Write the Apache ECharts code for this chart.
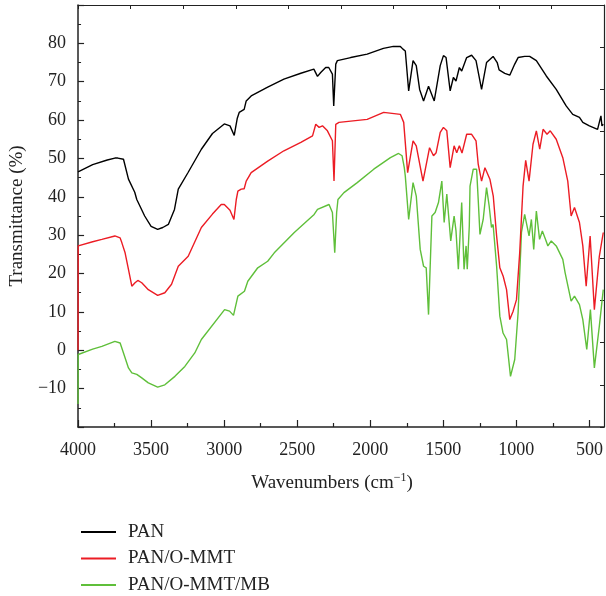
<!DOCTYPE html>
<html>
<head>
<meta charset="utf-8">
<script src="https://cdn.jsdelivr.net/npm/echarts@6/dist/echarts.min.js"></script>
<style>
  html, body { margin: 0; padding: 0; background: #fff; }
  #main { width: 606px; height: 596px; }
</style>
</head>
<body>
<div id="main"></div>
<script>
// wavenumber (cm-1), transmittance (%)
var pan = [
  [4000,46.5],[3900,48.4],[3800,49.6],[3748,50.1],[3728,50.1],[3689,49.8],[3655,44.6],[3612,41.2],
  [3598,39.3],[3544,35],[3500,32.3],[3455,31.5],[3420,32],[3382,32.8],[3340,36.7],[3314,42],
  [3246,46.4],[3156,52.4],[3080,56.5],[2999,59],[2960,58.5],[2931,56],[2910,60.5],[2897,62],
  [2863,62.8],[2849,65],[2815,66.3],[2702,68.6],[2591,70.7],[2475,72.2],[2386,73.3],[2361,71.4],
  [2339,72.4],[2305,73.7],[2284,73.7],[2259,72],[2250,63.7],[2236,74.6],[2225,75.5],[2134,76.3],
  [2021,77.2],[1910,78.7],[1842,79.2],[1794,79.2],[1776,78.5],[1760,78],[1737,67.6],[1707,75.5],
  [1685,74.2],[1662,68],[1635,65],[1601,68.8],[1562,65],[1521,74.2],[1499,76.8],[1481,76.3],
  [1453,67.6],[1431,71.1],[1413,70.2],[1390,73.7],[1374,72.8],[1340,76.3],[1306,76.9],[1276,75.5],
  [1238,68],[1204,75],[1159,76.6],[1131,75],[1118,73.1],[1079,72.2],[1045,71.7],[1011,74.6],
  [988,76.3],[943,76.6],[909,76.6],[863,75.5],[795,71.5],[727,68],[659,63.7],[614,61.5],
  [568,60.7],[545,59.4],[500,58.5],[444,57.6],[421,61.1],[414,58.5],[405,58.9]
];
var panOMMT = [
  [4000,0],[3999,27.2],[3900,28.3],[3837,28.9],[3748,29.8],[3712,29.3],[3700,28],[3678,25.4],
  [3655,21.1],[3632,16.7],[3610,17.6],[3591,18.2],[3564,17.6],[3519,15.8],[3455,14.3],[3406,15],
  [3360,17.2],[3314,21.9],[3246,24.5],[3156,32],[3080,35.5],[3020,38],[2999,38],[2960,36.5],
  [2933,34.1],[2917,39.3],[2906,41.5],[2883,42],[2863,42.1],[2849,44.1],[2815,46.3],[2702,49.3],
  [2591,52],[2475,54.2],[2395,55.9],[2373,58.9],[2361,58.9],[2350,58.1],[2327,58.5],[2293,57.2],
  [2259,54.6],[2248,44.1],[2236,58.9],[2214,59.4],[2021,60.2],[1908,62],[1794,61.5],[1771,59.4],
  [1744,46.3],[1707,54.6],[1685,53.3],[1639,44.1],[1594,52.8],[1567,50.7],[1549,51.5],[1521,56.8],
  [1499,58.1],[1476,57.2],[1453,47.6],[1426,53.3],[1408,51.5],[1390,53.3],[1372,51.4],[1340,56.3],
  [1306,56.3],[1276,54.6],[1261,48.5],[1238,44.1],[1215,47.6],[1181,44.6],[1158,40.2],[1135,29.8],
  [1113,21.5],[1090,19.3],[1067,15.8],[1045,8],[1022,10.2],[999,13.2],[977,25.4],[954,42.8],
  [936,49.5],[913,44.1],[886,53.7],[863,57.2],[840,52.4],[817,57.6],[790,56.3],[768,57.2],
  [727,55],[682,50.2],[648,44.1],[625,35],[602,37.2],[568,33.3],[545,27.2],[522,16.7],
  [495,29.8],[466,10.6],[432,24.5],[405,30.7]
];
var panOMMTMB = [
  [4000,-14],[3999,-1.1],[3900,0.3],[3837,1],[3748,2.3],[3712,1.9],[3689,-0.7],[3655,-4.6],
  [3632,-5.9],[3598,-6.3],[3564,-7.2],[3519,-8.5],[3455,-9.6],[3406,-9],[3337,-6.8],[3269,-4.2],
  [3201,-0.7],[3156,2.8],[2997,10.6],[2963,10.2],[2936,9.1],[2906,14.1],[2861,15.4],[2838,18],
  [2770,21.5],[2702,23.2],[2657,25.4],[2520,30.7],[2384,35.4],[2361,36.7],[2282,38],[2259,35.9],
  [2243,25.4],[2230,35.9],[2221,39.3],[2180,41.1],[2089,43.7],[1976,47.2],[1862,50.2],[1806,51.3],
  [1782,50.7],[1767,47.6],[1760,45.4],[1737,34.1],[1707,43.7],[1685,40.2],[1658,26.3],[1635,21.9],
  [1617,21.5],[1601,9.3],[1578,35],[1556,35.9],[1533,38.5],[1510,44.1],[1494,33.3],[1476,40.7],
  [1449,28.5],[1426,35],[1413,31.1],[1397,21.1],[1374,38.5],[1358,21.1],[1344,27.2],[1336,21.1],
  [1322,32.4],[1317,42.8],[1295,47.2],[1272,47.2],[1261,39.3],[1249,30.2],[1227,34.1],[1204,42.4],
  [1186,37.6],[1170,32],[1159,32.8],[1135,21.9],[1113,8.9],[1091,4.5],[1067,2.8],[1040,-6.8],
  [1011,-2.4],[988,9.8],[965,30.7],[943,35.4],[931,35.4],[913,29.8],[897,34.1],[881,26.3],
  [863,36.3],[841,28.9],[822,31.1],[800,28.9],[784,27.2],[761,28.5],[727,27.2],[682,23.7],
  [666,20.2],[655,20.6],[625,12.8],[602,14.1],[568,11.9],[545,8],[518,0.2],[493,10.6],
  [466,-4.6],[432,6.3],[405,15.8]
];
var names = ['PAN', 'PAN/O-MMT', 'PAN/O-MMT/MB'];
var colors = ['#000000', '#ec1c24', '#5fbf3a'];
var xTicks = [500, 1000, 1500, 2000, 2500, 3000, 3500, 4000];
var xMinorTicks = [750, 1250, 1750, 2250, 2750, 3250, 3750];

var myChart = echarts.init(document.getElementById('main'));
var font = 'Liberation Serif';
var axisColor = '#222';

var option = {
  animation: false,
  backgroundColor: '#fff',
  textStyle: { fontFamily: font },
  grid: { left: 76, right: 2, top: 5, bottom: 169 },
  legend: {
    orient: 'vertical',
    left: 81,
    top: 522,
    padding: 0,
    itemWidth: 35,
    itemHeight: 2,
    itemGap: 6.5,
    icon: 'rect',
    data: names,
    textStyle: { fontFamily: font, fontSize: 19, color: '#222', lineHeight: 20, padding: [0, 0, 0, 7] }
  },
  xAxis: [{
    type: 'value',
    min: 400,
    max: 4000,
    inverse: true,
    position: 'bottom',
    name: 'Wavenumbers (cm{sup|\u22121})',
    nameLocation: 'middle',
    nameGap: 45,
    nameTextStyle: {
      fontFamily: font, fontSize: 19, color: '#222', padding: [0, 18, 0, 0],
      rich: { sup: { fontFamily: font, fontSize: 12, verticalAlign: 'top', padding: [0, 0, 10, 0], color: '#222' } }
    },
    axisLine: { onZero: false, lineStyle: { color: axisColor, width: 1.5 } },
    axisTick: { inside: true, length: 7, customValues: xTicks, lineStyle: { color: axisColor, width: 1.2 } },
    axisLabel: {
      customValues: xTicks, fontFamily: font, fontSize: 18, color: '#222', margin: 14,
      formatter: function (v) { return String(v); }
    },
    splitLine: { show: false }
  }, {
    type: 'value',
    min: 400,
    max: 4000,
    inverse: true,
    position: 'bottom',
    axisLine: { show: false, onZero: false },
    axisTick: { inside: true, length: 4, customValues: xMinorTicks, lineStyle: { color: axisColor, width: 1.2 } },
    axisLabel: { show: false },
    splitLine: { show: false }
  }, {
    type: 'value',
    min: 0,
    max: 10,
    interval: 1,
    position: 'top',
    axisLine: { onZero: false, lineStyle: { color: axisColor, width: 1.2 } },
    axisTick: { inside: true, length: 4, lineStyle: { color: axisColor } },
    axisLabel: { show: false },
    splitLine: { show: false }
  }],
  yAxis: [{
    type: 'value',
    min: -20,
    max: 90,
    interval: 10,
    name: 'Transmittance (%)',
    nameLocation: 'middle',
    nameGap: 47,
    nameTextStyle: { fontFamily: font, fontSize: 19, color: '#222' },
    axisLine: { onZero: false, lineStyle: { color: axisColor, width: 1.5 } },
    axisTick: { inside: true, length: 6, lineStyle: { color: axisColor, width: 1.2 } },
    minorTick: { show: true, splitNumber: 2, length: 3, lineStyle: { color: axisColor } },
    axisLabel: {
      fontFamily: font, fontSize: 18, color: '#222', margin: 12,
      formatter: function (v) {
        if (v === -20 || v === 90) return '';
        return v < 0 ? '\u2212' + Math.abs(v) : String(v);
      }
    },
    splitLine: { show: false }
  }, {
    type: 'value',
    min: 0,
    max: 10,
    interval: 1,
    position: 'right',
    axisLine: { onZero: false, lineStyle: { color: axisColor, width: 1.2 } },
    axisTick: { inside: true, length: 4, lineStyle: { color: axisColor } },
    axisLabel: { show: false },
    splitLine: { show: false }
  }],
  series: [pan, panOMMT, panOMMTMB].map(function (d, i) {
    return {
      name: names[i],
      type: 'line',
      xAxisIndex: 0,
      yAxisIndex: 0,
      data: d,
      showSymbol: false,
      symbol: 'none',
      color: colors[i],
      lineStyle: { color: colors[i], width: 1.4 },
      z: 3 - i
    };
  })
};
myChart.setOption(option);
</script>
</body>
</html>
